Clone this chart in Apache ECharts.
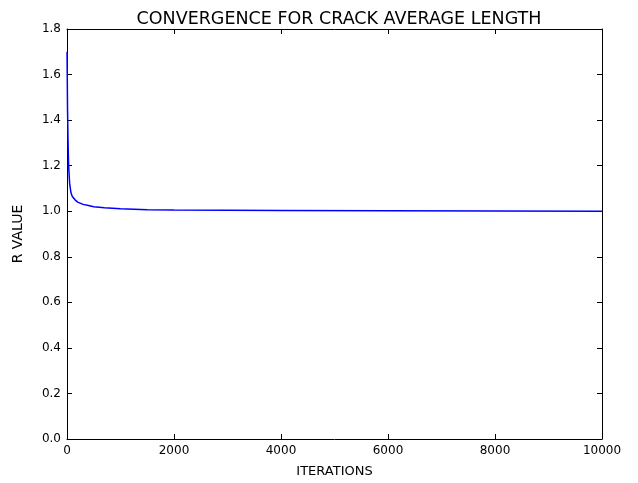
<!DOCTYPE html>
<html><head><meta charset="utf-8">
<script src="https://cdn.jsdelivr.net/npm/echarts@6/dist/echarts.min.js"></script>
<style>html,body{margin:0;padding:0;background:#fff}#c{width:638px;height:483px}</style>
</head><body><div id="c"></div>
<script>
const titleText = "CONVERGENCE FOR CRACK AVERAGE LENGTH";
const xName = "ITERATIONS";
const yName = "R VALUE";
const iterations = [1, 10, 20, 30, 50, 75, 100, 150, 200, 300, 400, 500, 700, 1000, 1500, 2000, 3000, 4000, 6000, 8000, 10000];
const rValues = [1.70, 1.45, 1.30, 1.20, 1.12, 1.08, 1.065, 1.05, 1.04, 1.03, 1.025, 1.02, 1.015, 1.011, 1.007, 1.005, 1.004, 1.003, 1.002, 1.001, 1.0];
const xTicks = [0, 2000, 4000, 6000, 8000, 10000];
const yTicks = [0.0, 0.2, 0.4, 0.6, 0.8, 1.0, 1.2, 1.4, 1.6, 1.8];

const font = "DejaVu Sans";
const chart = echarts.init(document.getElementById('c'));
const axLine = {show: true, onZero: false, lineStyle: {color: '#000', width: 1}};
const tick = {show: true, inside: true, length: 5, lineStyle: {color: '#000'}};
chart.setOption({
  animation: false,
  title: {text: titleText, left: 334, top: 5, textAlign: 'center',
    textStyle: {fontFamily: font, fontSize: 17.5, fontWeight: 'normal', color: '#000'}},
  grid: {left: 67, right: 36, top: 29, bottom: 42},
  xAxis: [{
    type: 'value', min: 0, max: 10000, interval: 2000,
    name: xName, nameLocation: 'middle', nameGap: 26,
    nameTextStyle: {fontFamily: font, fontSize: 13, color: '#000'},
    axisLine: axLine, axisTick: tick, splitLine: {show: false},
    axisLabel: {fontFamily: font, fontSize: 12, color: '#000', margin: 6,
      formatter: v => String(v)}
  }, {
    type: 'value', position: 'top', min: 0, max: 10000, interval: 2000,
    axisLine: axLine, axisTick: tick, splitLine: {show: false}, axisLabel: {show: false}
  }],
  yAxis: [{
    type: 'value', min: 0, max: 1.8, interval: 0.2,
    name: yName, nameLocation: 'middle', nameGap: 42,
    nameTextStyle: {fontFamily: font, fontSize: 14, color: '#000'},
    axisLine: axLine, axisTick: tick, splitLine: {show: false},
    axisLabel: {fontFamily: font, fontSize: 12, color: '#000', margin: 6,
      formatter: v => v.toFixed(1)}
  }, {
    type: 'value', position: 'right', min: 0, max: 1.8, interval: 0.2,
    axisLine: axLine, axisTick: tick, splitLine: {show: false}, axisLabel: {show: false}
  }],
  series: [{
    type: 'line', xAxisIndex: 0, yAxisIndex: 0, showSymbol: false, smooth: false,
    data: iterations.map((x, i) => [x, rValues[i]]),
    lineStyle: {color: '#0000ff', width: 1.5}
  }]
});
</script></body></html>
